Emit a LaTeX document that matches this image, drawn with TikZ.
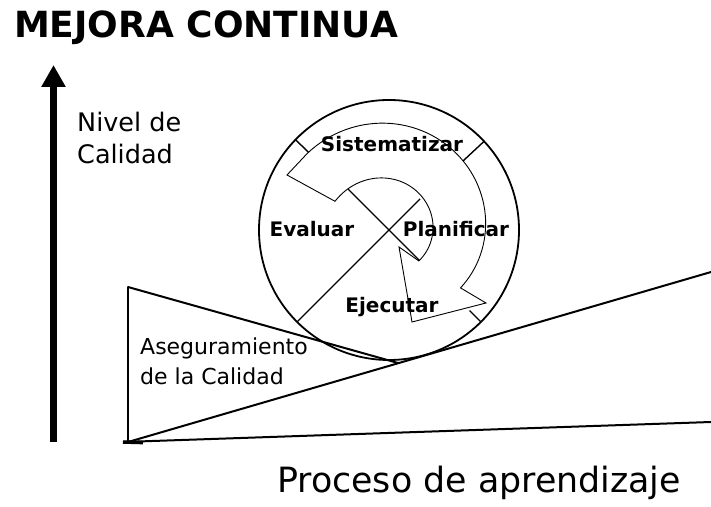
\documentclass[tikz,border=0pt]{standalone}
\usepackage{fontspec}
\setmainfont{DejaVu Sans}
\usetikzlibrary{arrows.meta}
\begin{document}
\begin{tikzpicture}[x=1pt,y=1pt,
  txt/.style={inner sep=0pt, text=black},
  phase/.style={txt, anchor=base, font=\fontsize{20}{23}\selectfont\bfseries},
  bigline/.style={line width=2pt, line cap=round},
  spiralline/.style={line width=0.9pt, line join=miter},
  crossline/.style={line width=1.4pt}
]
\useasboundingbox[fill=white] (0,0) rectangle (711,506);
% title
\node[txt, anchor=base, font=\fontsize{36}{40}\selectfont\bfseries] (title) at (206,468) {MEJORA CONTINUA};
% vertical arrow
\coordinate (yb) at (53.5,64);
\coordinate (yt) at (53.5,441);
\draw[line width=7pt, -{Triangle[width=23pt,length=22pt]}] (yb) -- (yt);
\node[txt, anchor=north west, align=left, font=\fontsize{25.5}{32}\selectfont] (nivel) at (77,394) {Nivel de\\Calidad};
% wedge (triangle) and lines
\coordinate (T0) at (128,64);
\coordinate (T1) at (128,219);
\coordinate (T2) at (398,143);
\coordinate (R) at (711,234);
\coordinate (B0) at (123,64);
\coordinate (B) at (711,84);
\draw[line width=1.5pt] (T0) -- (T1);
\draw[bigline] (T1) -- (T2);
\draw[bigline] (T0) -- (R);
\draw[line width=2pt] (B0) -- (B);
\draw[line width=3.5pt] (B0) -- (143,63.4);
\node[txt, anchor=north west, align=left, font=\fontsize{22}{30}\selectfont] (aseg) at (140,168) {Aseguramiento\\de la Calidad};
% circle
\coordinate (C) at (389,276);
\draw[line width=1.8pt] (C) circle[radius=130];
\begin{scope}[shift={(C)}]
  \draw[crossline] (225:130) -- (45:44);
  \draw[crossline] (135:58) -- (-45:43);
  \draw[crossline] (136:112) -- (136:130);
  \draw[crossline] (43:101) -- (43:130);
  \draw[crossline] (-45:114) -- (-45:130);
  \draw[spiralline]
    plot[domain=137:-39, samples=60, variable=\t] (\t:{92+20*(\t+39)/176})
    -- (97,-73) -- (23,-92) -- (10,-17)
    -- plot[domain=-46:152, samples=60, variable=\t] (\t:{43+15*((\t+46)/180)^2})
    -- (-102,55) -- cycle;
\end{scope}
\node[phase] (sist) at (392,354) {Sistematizar};
\node[phase] (eval) at (312,269) {Evaluar};
\node[phase] (plan) at (456,269) {Planificar};
\node[phase] (ejec) at (392,193) {Ejecutar};
% bottom label
\node[txt, anchor=base west, font=\fontsize{34.8}{40}\selectfont] (proc) at (277,14) {Proceso de aprendizaje};
\end{tikzpicture}
\end{document}
